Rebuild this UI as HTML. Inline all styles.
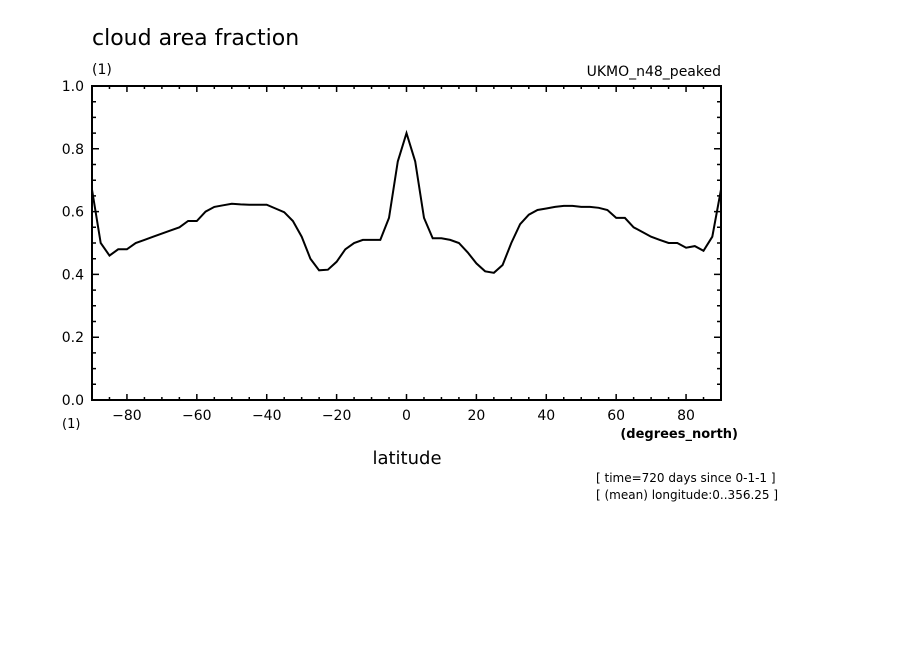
<!DOCTYPE html>
<html><head><meta charset="utf-8"><style>
html,body{margin:0;padding:0;background:#fff}
svg{display:block}
text{font-family:"DejaVu Sans","Liberation Sans",sans-serif;fill:#000}
</style></head><body>
<svg id="chart" width="904" height="654" viewBox="0 0 904 654" xmlns="http://www.w3.org/2000/svg">
<text x="92" y="45" font-size="22">cloud area fraction</text>
<text x="92" y="74" font-size="14">(1)</text>
<text x="721" y="76" font-size="14" text-anchor="end">UKMO_n48_peaked</text>
<rect x="92" y="86" width="629" height="314" fill="none" stroke="#000" stroke-width="2"/>
<g id="ticks"></g>
<g id="labels"></g>
<polyline id="line" fill="none" stroke="#000" stroke-width="2"/>
<text x="62" y="428" font-size="13">(1)</text>
<text x="738" y="438" font-size="13" font-weight="bold" text-anchor="end">(degrees_north)</text>
<text x="407" y="464" font-size="18" text-anchor="middle">latitude</text>
<text x="596" y="482" font-size="12">[ time=720 days since 0-1-1 ]</text>
<text x="596" y="499" font-size="12">[ (mean) longitude:0..356.25 ]</text>
</svg>
<script>
const lats = [-90,-87.5,-85,-82.5,-80,-77.5,-75,-72.5,-70,-67.5,-65,-62.5,-60,-57.5,-55,-52.5,-50,-47.5,-45,-42.5,-40,-37.5,-35,-32.5,-30,-27.5,-25,-22.5,-20,-17.5,-15,-12.5,-10,-7.5,-5,-2.5,0,2.5,5,7.5,10,12.5,15,17.5,20,22.5,25,27.5,30,32.5,35,37.5,40,42.5,45,47.5,50,52.5,55,57.5,60,62.5,65,67.5,70,72.5,75,77.5,80,82.5,85,87.5,90];
const cloudValues = [0.67,0.50,0.46,0.48,0.48,0.50,0.51,0.52,0.53,0.54,0.55,0.57,0.57,0.60,0.615,0.62,0.625,0.623,0.622,0.622,0.622,0.61,0.598,0.57,0.52,0.45,0.413,0.415,0.44,0.48,0.50,0.51,0.51,0.51,0.58,0.76,0.85,0.76,0.58,0.515,0.515,0.51,0.50,0.47,0.435,0.41,0.405,0.43,0.50,0.56,0.59,0.605,0.61,0.615,0.618,0.618,0.615,0.615,0.612,0.605,0.58,0.58,0.55,0.535,0.52,0.51,0.50,0.50,0.485,0.49,0.475,0.52,0.67];
const xTickLabels = [-80,-60,-40,-20,0,20,40,60,80];
const yTickLabels = ["0.0","0.2","0.4","0.6","0.8","1.0"];
const X0=92,X1=721,Y0=400,Y1=86;
function xs(v){return X0+(v+90)/180*(X1-X0);}
function ys(v){return Y0-v*(Y0-Y1);}
const NS="http://www.w3.org/2000/svg";
const line=document.getElementById('line');
line.setAttribute('points',lats.map((l,i)=>xs(l).toFixed(1)+','+ys(cloudValues[i]).toFixed(1)).join(' '));
const tg=document.getElementById('ticks'), lg=document.getElementById('labels');
let d='';
for(let v=-90;v<=90;v+=5){const x=xs(v);const L=(v%20===0)?6:3;d+=`M${x},${Y0}v${-L}M${x},${Y1}v${L}`;}
for(let k=0;k<=20;k++){const y=ys(k*0.05);const L=(k%4===0)?7:4;d+=`M${X0},${y}h${L}M${X1},${y}h${-L}`;}
const p=document.createElementNS(NS,'path');


p.setAttribute('d',d);p.setAttribute('stroke','#000');p.setAttribute('stroke-width','1.5');
tg.appendChild(p);
xTickLabels.forEach(v=>{const t=document.createElementNS(NS,'text');


t.setAttribute('x',xs(v));t.setAttribute('y',420);t.setAttribute('text-anchor','middle');t.setAttribute('font-size','14');
t.textContent=(v<0?'\u2212'+(-v):String(v));lg.appendChild(t);});
yTickLabels.forEach(s=>{const t=document.createElementNS(NS,'text');


t.setAttribute('x',84);t.setAttribute('y',ys(parseFloat(s))+5);t.setAttribute('text-anchor','end');t.setAttribute('font-size','14');
t.textContent=s;lg.appendChild(t);});
</script>
</body></html>
